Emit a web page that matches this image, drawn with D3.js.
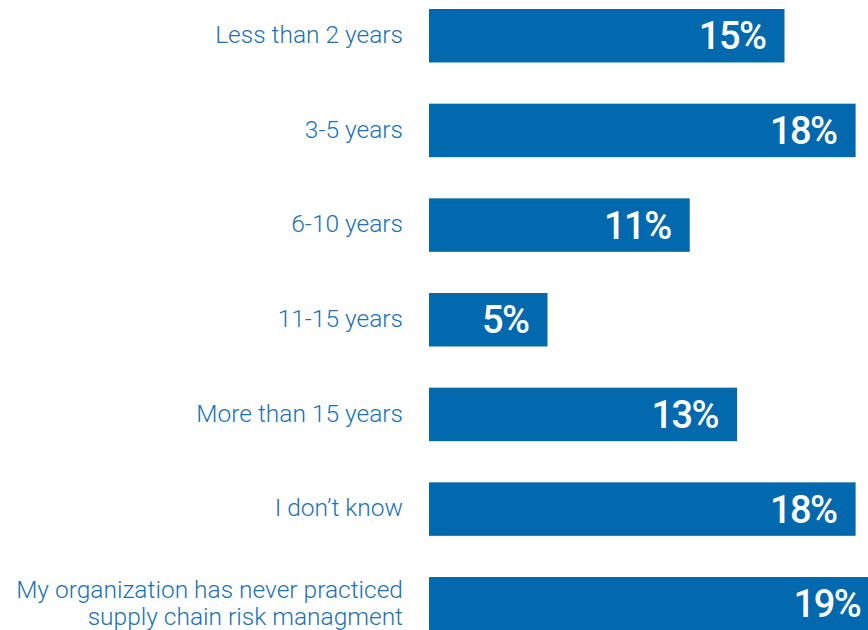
<!DOCTYPE html>
<html>
<head>
<meta charset="utf-8">
<script src="https://cdn.jsdelivr.net/npm/d3@7"></script>
<style>
  body { margin: 0; background: #fff; }
  svg { display: block; }
</style>
</head>
<body>
<div id="chart"></div>
<script>
var categories = [
  "Less than 2 years",
  "3-5 years",
  "6-10 years",
  "11-15 years",
  "More than 15 years",
  "I don\u2019t know",
  "My organization has never practiced|supply chain risk managment"
];
var values = [15, 18, 11, 5, 13, 18, 19];

var width = 868, height = 630;

var svg = d3.select("#chart").append("svg")
  .attr("width", width)
  .attr("height", height);

var x = d3.scaleLinear()
  .domain([0, 20])
  .range([429, 903]);

var y = d3.scaleBand()
  .domain(categories)
  .range([-11.6, 651.1])
  .paddingInner(0.435)
  .paddingOuter(0.2175);

var barColor = "#0369ae";

svg.selectAll("rect.bar")
  .data(values)
  .enter().append("rect")
    .attr("class", "bar")
    .attr("x", x(0))
    .attr("y", function(d, i) { return y(categories[i]); })
    .attr("width", function(d) { return x(d) - x(0); })
    .attr("height", y.bandwidth())
    .attr("fill", barColor);

svg.selectAll("text.val")
  .data(values)
  .enter().append("text")
    .attr("class", "val")
    .attr("x", function(d) { return x(d) - 19; })
    .attr("y", function(d, i) { return y(categories[i]) + y.bandwidth() / 2; })
    .attr("dy", "0.36em")
    .attr("text-anchor", "end")
    .attr("fill", "#fff")
    .style("font-family", "Roboto, sans-serif")
    .style("font-weight", 500)
    .style("font-size", "38px")
    .style("letter-spacing", "-1.5px")
    .text(function(d) { return d + "%"; });

var labels = svg.selectAll("text.cat")
  .data(categories)
  .enter().append("text")
    .attr("class", "cat")
    .attr("x", 403)
    .attr("y", function(d) { return y(d) + y.bandwidth() / 2; })
    .attr("text-anchor", "end")
    .attr("fill", "#1a72b6")
    .style("font-family", "Roboto, sans-serif")
    .style("font-weight", 300)
    .style("font-size", "24.5px");

labels.each(function(d) {
  var lines = d.split("|");
  var t = d3.select(this);
  var start = -(lines.length - 1) * 0.55 + 0.3;
  lines.forEach(function(l, j) {
    t.append("tspan")
      .attr("x", 403)
      .attr("dy", (j === 0 ? start : 1.1) + "em")
      .text(l);
  });
});
</script>
</body>
</html>
